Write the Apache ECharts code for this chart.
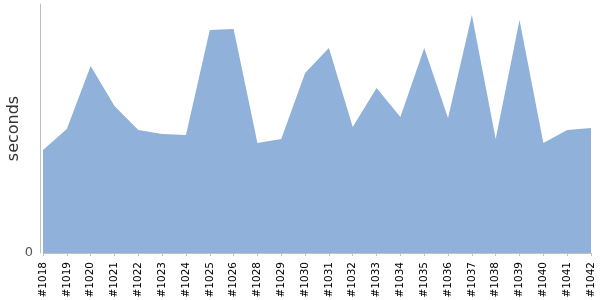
<!DOCTYPE html>
<html>
<head>
<meta charset="utf-8">
<script src="https://cdn.jsdelivr.net/npm/echarts@6/dist/echarts.min.js"></script>
<style>html,body{margin:0;padding:0;background:#fff}#c{width:600px;height:300px}</style>
</head>
<body>
<div id="c"></div>
<script>
const categories = ['#1018','#1019','#1020','#1021','#1022','#1023','#1024','#1025','#1026','#1028','#1029','#1030','#1031','#1032','#1033','#1034','#1035','#1036','#1037','#1038','#1039','#1040','#1041','#1042'];
const seconds = [103,124,187,147,123,119,118,223,224,110,114,180,205,126,165,136,205,135,238,114,233,110,123,125];
const yMax = 249;
const yTickLabels = ['0'];

const chart = echarts.init(document.getElementById('c'), null, {renderer:'canvas'});
chart.setOption({
  animation: false,
  grid: {left: 43, right: 9, top: 4, bottom: 47, containLabel: false, outerBoundsMode: 'none'},
  xAxis: {
    type: 'category',
    data: categories,
    boundaryGap: false,
    axisLine: {lineStyle: {color: '#c0c0c0', width: 1}},
    axisTick: {show: true, alignWithLabel: true, length: 3, lineStyle: {color: '#c0c0c0'}},
    axisLabel: {rotate: 90, interval: 0, margin: 9, fontFamily: 'DejaVu Sans', fontSize: 10.5, color: '#000'},
    splitLine: {show: false}
  },
  yAxis: {
    type: 'value',
    min: 0,
    max: yMax,
    interval: yMax,
    offset: 3,
    name: 'seconds',
    nameLocation: 'middle',
    nameRotate: 90,
    nameGap: 18,
    nameMoveOverlap: false,
    nameTextStyle: {fontFamily: 'DejaVu Sans', fontSize: 16, color: '#333'},
    axisLine: {show: true, lineStyle: {color: '#c0c0c0', width: 1}},
    axisTick: {show: false},
    axisLabel: {fontFamily: 'DejaVu Sans', fontSize: 13, color: '#555', margin: 7,
      formatter: v => (v === 0 ? yTickLabels[0] : '')},
    splitLine: {show: false}
  },
  series: [{
    type: 'line',
    data: seconds,
    symbol: 'none',
    lineStyle: {width: 0},
    areaStyle: {color: '#8fb1da', opacity: 1}
  }]
});
</script>
</body>
</html>
